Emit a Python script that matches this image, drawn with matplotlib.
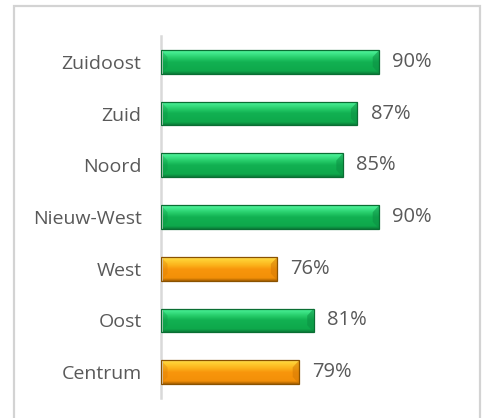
import matplotlib
matplotlib.use("Agg")
import matplotlib.pyplot as plt
import numpy as np
from matplotlib.patches import Rectangle, Polygon
from matplotlib.colors import LinearSegmentedColormap

categories = ["Zuidoost", "Zuid", "Noord", "Nieuw-West", "West", "Oost", "Centrum"]
values = [90, 87, 85, 90, 76, 81, 79]
highlight = [False, False, False, False, True, False, True]

plt.rcParams['font.family'] = ['Open Sans', 'DejaVu Sans']

W, H = 485, 418
fig = plt.figure(figsize=(W / 100, H / 100), dpi=100)
fig.patch.set_facecolor("white")

# outer frame
fig.add_artist(Rectangle((14 / W, -0.05), (480 - 14) / W, 1 - 6 / H + 0.05,
                         transform=fig.transFigure, fill=False,
                         edgecolor="#d3d3d3", linewidth=1.6))

ax = fig.add_axes([161 / W, 1 - 398 / H, (452 - 161) / W, (398 - 36) / H])
ax.set_xlim(60, 100)
ax.set_ylim(len(categories) - 0.5, -0.5)

green_cmap = LinearSegmentedColormap.from_list(
    "g", [(0.0, "#5ef5a0"), (0.08, "#46ee92"), (0.35, "#22c865"),
          (0.5, "#12b152"), (0.88, "#0ea84b"), (1.0, "#0b7d39")])
orange_cmap = LinearSegmentedColormap.from_list(
    "o", [(0.0, "#ffe070"), (0.08, "#ffd437"), (0.35, "#fcb11a"),
          (0.5, "#f8960c"), (0.88, "#f39008"), (1.0, "#a86000")])

bh = 0.46
y = np.arange(len(categories))
bars = ax.barh(y, values, left=0, height=bh, color="none", edgecolor="none")
grad = np.linspace(0, 1, 64).reshape(-1, 1)
x0 = ax.get_xlim()[0]
for bar, v, hl in zip(bars, values, highlight):
    yc = bar.get_y()
    cmap = orange_cmap if hl else green_cmap
    edge = "#8a5200" if hl else "#0a6e33"
    im = ax.imshow(grad, aspect="auto", cmap=cmap,
                   extent=(x0, v, yc + bh, yc), origin="upper",
                   interpolation="bilinear", zorder=2)
    clip = Rectangle((x0, yc), v - x0, bh, transform=ax.transData)
    im.set_clip_path(clip)
    ax.add_patch(Rectangle((x0, yc), v - x0, bh, fill=False,
                           edgecolor=edge, linewidth=0.9, zorder=3))
    # bevels at both ends
    bw = 0.9
    dark = "#d57a05" if hl else "#0c8f43"
    ax.add_patch(Polygon([(v, yc), (v - bw, yc + bh * 0.3), (v - bw, yc + bh * 0.7), (v, yc + bh)],
                         closed=True, facecolor=dark, edgecolor="none", alpha=0.55, zorder=2.5))
    ax.add_patch(Polygon([(x0, yc), (x0 + bw, yc + bh * 0.3), (x0 + bw, yc + bh * 0.7), (x0, yc + bh)],
                         closed=True, facecolor=dark, edgecolor="none", alpha=0.3, zorder=2.5))
    ax.annotate(f"{v}%", xy=(v, bar.get_y() + bh / 2), xytext=(9.5, 0),
                textcoords="offset points", ha="left", va="center",
                fontsize=14.5, color="#595959")

ax.set_yticks(y)
ax.set_yticklabels(categories, fontsize=14, color="#595959")
ax.tick_params(axis="y", length=0, pad=14)
ax.set_xticks([])
for s in ["top", "right", "bottom"]:
    ax.spines[s].set_visible(False)
ax.spines["left"].set_color("#d9d9d9")
ax.spines["left"].set_linewidth(1.8)
ax.patch.set_alpha(0)

fig.savefig("out.png", dpi=100, facecolor="white")
